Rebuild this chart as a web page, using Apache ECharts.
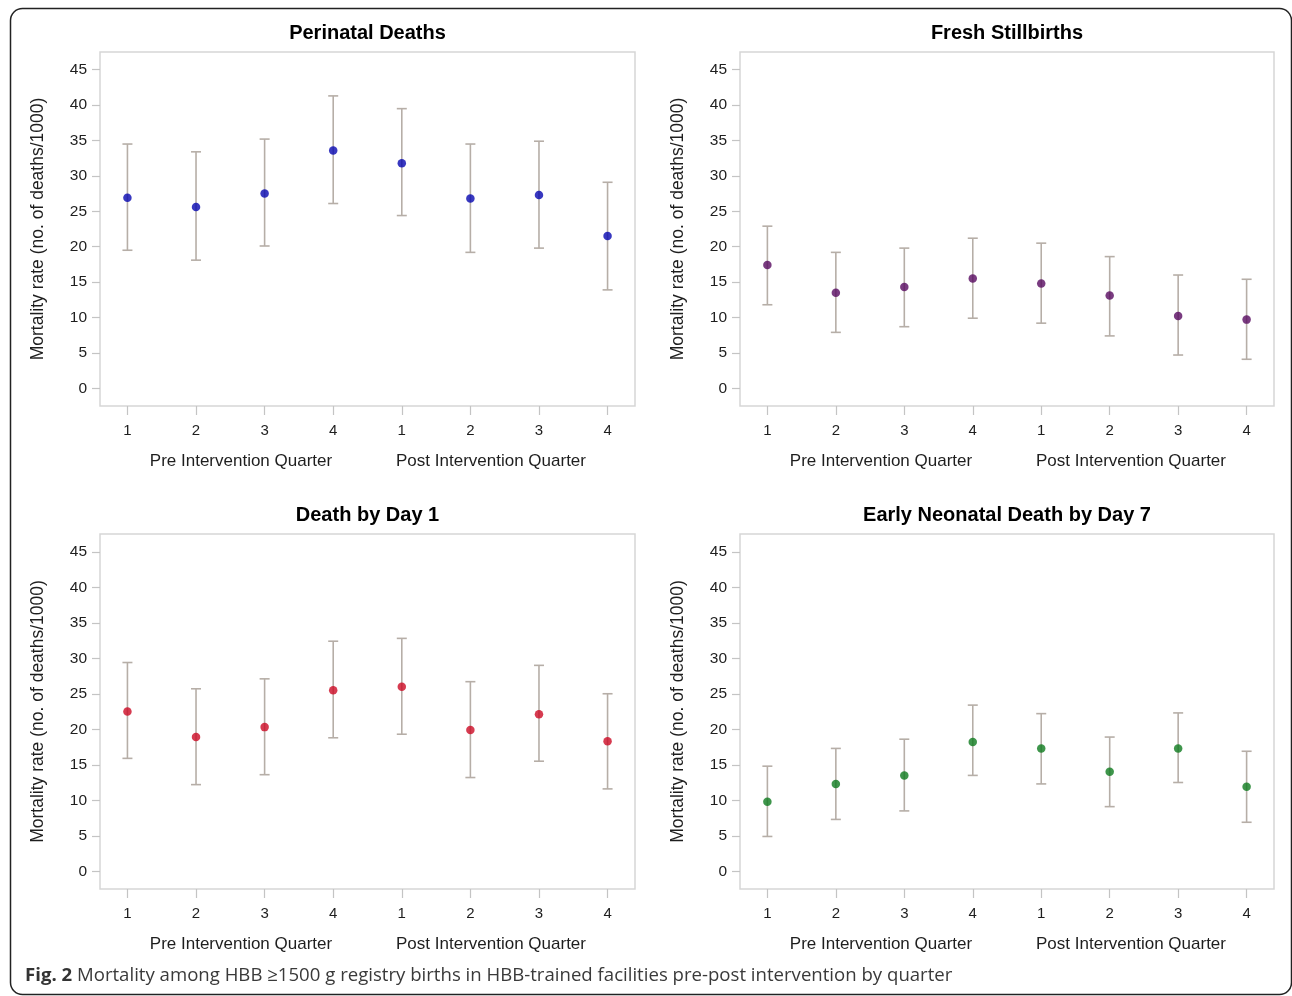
<!DOCTYPE html>
<html>
<head>
<meta charset="utf-8">
<script src="https://cdn.jsdelivr.net/npm/echarts@6/dist/echarts.min.js"></script>
<style>
html,body{margin:0;padding:0;background:#fff;}
#c{width:1292px;height:996px;}
</style>
</head>
<body>
<div id="c"></div>
<script>
// ---- data ----
const quarterLabels = ['1', '2', '3', '4', '1', '2', '3', '4'];
const quarterGroups = ['Pre Intervention Quarter', 'Post Intervention Quarter'];
const yTickValues = [0, 5, 10, 15, 20, 25, 30, 35, 40, 45];
const panelTitles = ['Perinatal Deaths', 'Fresh Stillbirths', 'Death by Day 1', 'Early Neonatal Death by Day 7'];

const perinatalRate  = [26.9, 25.6, 27.5, 33.6, 31.8, 26.8, 27.3, 21.5];
const perinatalLower = [19.5, 18.1, 20.1, 26.1, 24.4, 19.2, 19.8, 13.9];
const perinatalUpper = [34.5, 33.4, 35.2, 41.3, 39.5, 34.5, 34.9, 29.1];

const stillbirthRate  = [17.4, 13.5, 14.3, 15.5, 14.8, 13.1, 10.2, 9.7];
const stillbirthLower = [11.8, 7.9, 8.7, 9.9, 9.2, 7.4, 4.7, 4.1];
const stillbirthUpper = [22.9, 19.2, 19.8, 21.2, 20.5, 18.6, 16.0, 15.4];

const day1Rate  = [22.5, 18.9, 20.3, 25.5, 26.0, 19.9, 22.1, 18.3];
const day1Lower = [15.9, 12.2, 13.6, 18.8, 19.3, 13.2, 15.5, 11.6];
const day1Upper = [29.4, 25.7, 27.1, 32.4, 32.8, 26.7, 29.0, 25.0];

const day7Rate  = [9.8, 12.3, 13.5, 18.2, 17.3, 14.0, 17.3, 11.9];
const day7Lower = [4.9, 7.3, 8.5, 13.5, 12.3, 9.1, 12.5, 6.9];
const day7Upper = [14.8, 17.3, 18.6, 23.4, 22.2, 18.9, 22.3, 16.9];

const caption = 'Mortality among HBB \u22651500 g registry births in HBB-trained facilities pre-post intervention by quarter';

// ---- layout / styles ----
const panels = [
  { title: panelTitles[0], rate: perinatalRate, lo: perinatalLower, hi: perinatalUpper, color: '#0606b0' },
  { title: panelTitles[1], rate: stillbirthRate, lo: stillbirthLower, hi: stillbirthUpper, color: '#580a60' },
  { title: panelTitles[2], rate: day1Rate, lo: day1Lower, hi: day1Upper, color: '#cc0a24' },
  { title: panelTitles[3], rate: day7Rate, lo: day7Lower, hi: day7Upper, color: '#0e7a1e' }
];
const gridPos = [
  { left: 100, top: 52, width: 535, height: 354 },
  { left: 740, top: 52, width: 534, height: 354 },
  { left: 100, top: 534, width: 535, height: 355 },
  { left: 740, top: 534, width: 534, height: 355 }
];
const FONT = '"Liberation Sans", Arial, sans-serif';
const TXT = '#1e1e1e';
const BAR = '#b6aea7';

const grids = [], xAxes = [], yAxes = [], series = [], graphics = [];
const xPositions = quarterLabels.map((_, i) => i + 1);

panels.forEach((p, k) => {
  const g = gridPos[k];
  grids.push(Object.assign({ show: true, borderColor: '#d6d6d6', borderWidth: 1.5, backgroundColor: '#fff' }, g));
  xAxes.push({
    gridIndex: k, type: 'value', min: 0.6, max: 8.4,
    axisLine: { show: false, onZero: false },
    splitLine: { show: false },
    axisTick: { show: true, length: 9, customValues: xPositions, lineStyle: { color: '#c4c4c4', width: 1.2 } },
    axisLabel: { customValues: xPositions, margin: 17, fontSize: 15, color: TXT, fontFamily: FONT,
      formatter: v => quarterLabels[Math.round(v) - 1] }
  });
  yAxes.push({
    gridIndex: k, type: 'value', min: -2.5, max: 47.5,
    axisLine: { show: false, onZero: false },
    splitLine: { show: false },
    axisTick: { show: true, length: 8, customValues: yTickValues, lineStyle: { color: '#c4c4c4', width: 1.2 } },
    axisLabel: { customValues: yTickValues, margin: 13, fontSize: 15.5, color: TXT, fontFamily: FONT },
    name: 'Mortality rate (no. of deaths/1000)', nameLocation: 'middle', nameGap: 53,
    nameTextStyle: { fontSize: 17.5, color: TXT, fontFamily: FONT }
  });
  series.push({
    type: 'custom', xAxisIndex: k, yAxisIndex: k, silent: true, z: 2,
    data: p.rate.map((_, i) => [i + 1, p.lo[i], p.hi[i]]),
    renderItem: function (params, api) {
      const x = api.value(0);
      const a = api.coord([x, api.value(1)]);
      const b = api.coord([x, api.value(2)]);
      const hw = 5;
      const st = { stroke: BAR, lineWidth: 1.6 };
      return { type: 'group', children: [
        { type: 'line', shape: { x1: b[0], y1: b[1], x2: a[0], y2: a[1] }, style: st },
        { type: 'line', shape: { x1: b[0] - hw, y1: b[1], x2: b[0] + hw, y2: b[1] }, style: st },
        { type: 'line', shape: { x1: a[0] - hw, y1: a[1], x2: a[0] + hw, y2: a[1] }, style: st }
      ]};
    }
  });
  series.push({
    type: 'scatter', xAxisIndex: k, yAxisIndex: k, z: 3, symbol: 'circle', symbolSize: 8.5,
    itemStyle: { color: p.color },
    data: p.rate.map((v, i) => [i + 1, v])
  });
  // panel title
  graphics.push({ type: 'text', style: { text: p.title, x: g.left + g.width / 2, y: g.top - 18.5,
    textAlign: 'center', textVerticalAlign: 'middle', font: 'bold 20px ' + FONT, fill: '#000' } });
  // group labels under x axis
  const gy = g.top + g.height + 55.5;
  graphics.push({ type: 'text', style: { text: quarterGroups[0], x: g.left + 141, y: gy,
    textAlign: 'center', textVerticalAlign: 'middle', font: '17px ' + FONT, fill: TXT } });
  graphics.push({ type: 'text', style: { text: quarterGroups[1], x: g.left + 391, y: gy,
    textAlign: 'center', textVerticalAlign: 'middle', font: '17px ' + FONT, fill: TXT } });
});

// outer rounded frame
graphics.push({ type: 'rect', shape: { x: 10.5, y: 8.5, width: 1281, height: 986, r: 12 },
  style: { fill: 'none', stroke: '#222', lineWidth: 1.5 }, z: -1 });
// caption
graphics.push({ type: 'text', style: {
  text: '{b|Fig. 2} ' + caption, x: 25, y: 976, textVerticalAlign: 'middle',
  font: '18.6px "Open Sans", sans-serif', fill: '#3a3a3a',
  rich: { b: { fontWeight: 'bold', fontSize: 18.6, fontFamily: '"Open Sans", sans-serif', fill: '#333' } }
}});

const chart = echarts.init(document.getElementById('c'), null, { renderer: 'canvas' });
chart.setOption({
  animation: false,
  backgroundColor: '#fff',
  grid: grids, xAxis: xAxes, yAxis: yAxes, series: series, graphic: graphics
});
</script>
</body>
</html>
